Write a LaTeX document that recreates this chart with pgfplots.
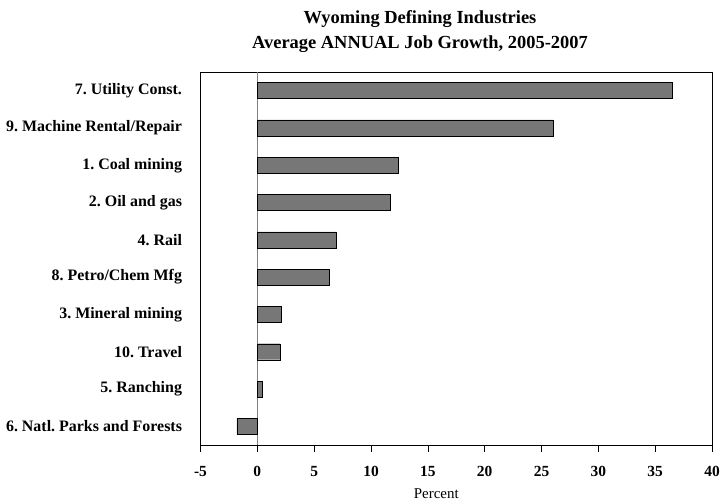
\documentclass[border=0pt]{standalone}
\usepackage{pgfplots}
\pgfplotsset{compat=1.18}
\usepackage{fontspec}
\setmainfont{Liberation Serif}
\frenchspacing
\definecolor{barfill}{HTML}{777777}

\begin{document}
\begin{tikzpicture}[x=1bp,y=1bp]
\path[use as bounding box] (0,0) rectangle (722,504);
\begin{axis}[
  at={(200.5bp,59bp)}, anchor=south west,
  scale only axis, width=511.5bp, height=373bp,
  xbar, bar width=16bp,
  xmin=-5, xmax=40, ymin=-0.5, ymax=9.5,
  xtick={-5,0,...,40},
  ytick={0,...,9},
  yticklabels={6. Natl. Parks and Forests,5. Ranching,10. Travel,3. Mineral mining,8. Petro/Chem Mfg,4. Rail,2. Oil and gas,1. Coal mining,9. Machine Rental/Repair,7. Utility Const.},
  y tick style={draw=none},
  x tick style={black, thin},
  tick align=outside, xtick pos=bottom,
  major tick length=7bp,
  /pgf/number format/assume math mode=true,
  xticklabel style={font=\fontsize{15.5}{18}\selectfont\bfseries, yshift=-11bp},
  yticklabel style={font=\fontsize{16}{19}\selectfont\bfseries, xshift=-8bp},
  axis line style={black, thin},
  extra x ticks={0},
  extra x tick labels={},
  extra x tick style={grid=major, major grid style={gray, thin}, major tick length=0pt},
  xlabel={Percent},
  xlabel style={font=\fontsize{15}{18}\selectfont, xshift=-20bp, yshift=2bp},
  clip=false,
]
\addplot[fill=barfill, draw=black, thin] coordinates {
  (-1.8,0) (0.4,1) (2.0,2) (2.1,3) (6.3,4) (6.9,5) (11.7,6) (12.4,7) (26.0,8) (36.5,9)
};
\end{axis}
\node[font=\fontsize{18.5}{25}\selectfont\bfseries, align=center] at (420,472)
  {Wyoming Defining Industries\\Average ANNUAL Job Growth, 2005-2007};
\end{tikzpicture}
\end{document}
